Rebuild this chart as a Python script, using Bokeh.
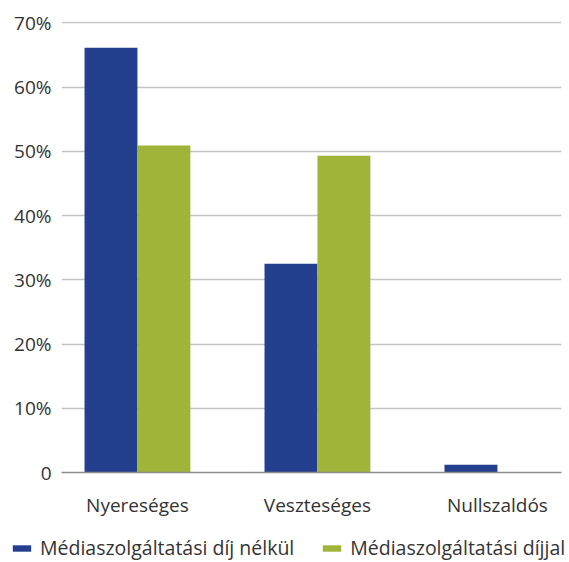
from bokeh.plotting import figure
from bokeh.models import ColumnDataSource, Range1d, FixedTicker, Legend, LegendItem
from bokeh.transform import dodge
from bokeh.embed import file_html
from bokeh.resources import INLINE

categories = ["Nyereséges", "Veszteséges", "Nullszaldós"]
series_names = ["Médiaszolgáltatási díj nélkül", "Médiaszolgáltatási díjjal"]
without_fee = [66.1, 32.5, 1.2]
with_fee = [50.9, 49.3, 0.0]
y_ticks = [0, 10, 20, 30, 40, 50, 60, 70]
y_tick_labels = ["0", "10%", "20%", "30%", "40%", "50%", "60%", "70%"]

BLUE = "#243f8e"
GREEN = "#a1b43a"
FONT = "Open Sans"
TEXT = "#333333"

src = ColumnDataSource(dict(x=list(range(len(categories))), a=without_fee, b=with_fee))

p = figure(width=569, height=528, output_backend="svg", toolbar_location=None,
           x_range=Range1d(-0.422, 2.356), y_range=Range1d(0, 70.2),
           min_border_left=61, min_border_right=8, min_border_top=21, min_border_bottom=56)
p.frame_width = 500
p.frame_height = 451
p.outline_line_color = None
p.background_fill_color = "white"

bw = 0.294
r1 = p.vbar(x=dodge("x", -bw / 2, range=p.x_range), top="a", width=bw, source=src,
            fill_color=BLUE, line_color=None)
r2 = p.vbar(x=dodge("x", bw / 2, range=p.x_range), top="b", width=bw, source=src,
            fill_color=GREEN, line_color=None)

# axes
p.xaxis.ticker = FixedTicker(ticks=list(range(len(categories))))
p.xaxis.major_label_overrides = {i: c for i, c in enumerate(categories)}
p.xaxis.axis_line_color = "#8c8c8c"
p.xaxis.axis_line_width = 1.5
p.xaxis.major_tick_line_color = None
p.xaxis.minor_tick_line_color = None
p.xaxis.major_label_standoff = 13
p.xaxis.major_label_text_font = FONT
p.xaxis.major_label_text_font_size = "19px"
p.xaxis.major_label_text_color = TEXT

p.yaxis.ticker = FixedTicker(ticks=y_ticks)
p.yaxis.major_label_overrides = {t: l for t, l in zip(y_ticks, y_tick_labels)}
p.yaxis.axis_line_color = None
p.yaxis.major_tick_line_color = None
p.yaxis.minor_tick_line_color = None
p.yaxis.major_label_standoff = 4
p.yaxis.major_label_text_font = FONT
p.yaxis.major_label_text_font_size = "19px"
p.yaxis.major_label_text_color = TEXT

p.xgrid.grid_line_color = None
p.ygrid.grid_line_color = "#c4c4c4"
p.ygrid.grid_line_width = 1.5

# legend strip below the chart (separate root so its frame spans the full width)
pl = figure(width=569, height=34, output_backend="svg", toolbar_location=None,
            x_axis_type=None, y_axis_type=None, min_border=0,
            x_range=Range1d(0, 1), y_range=Range1d(0, 1))
pl.outline_line_color = None
pl.xgrid.grid_line_color = None
pl.ygrid.grid_line_color = None
# key swatches: zero-height renderers used only by the legend
lr1 = pl.vbar(x=[0.5], top=[0], bottom=[0], width=0.0, fill_color=BLUE, line_color=None)
lr2 = pl.vbar(x=[0.5], top=[0], bottom=[0], width=0.0, fill_color=GREEN, line_color=None)

legend = Legend(items=[LegendItem(label=series_names[0], renderers=[lr1]),
                       LegendItem(label=series_names[1], renderers=[lr2])],
                orientation="horizontal", location=(10, 1),
                glyph_width=23, glyph_height=8, label_standoff=7, spacing=26,
                padding=0, margin=0, border_line_color=None, background_fill_alpha=0,
                label_text_font=FONT, label_text_font_size="19.5px", label_text_color=TEXT)
pl.add_layout(legend, "center")

open("out.html", "w").write(file_html([p, pl], INLINE))
